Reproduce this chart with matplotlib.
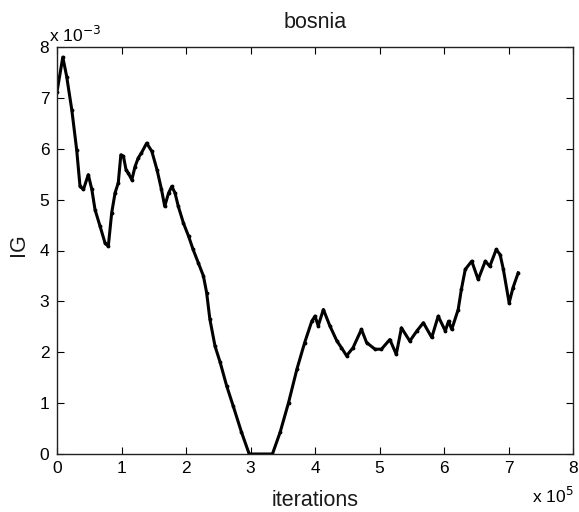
import matplotlib
matplotlib.use("Agg")
import matplotlib.pyplot as plt
from matplotlib.ticker import FuncFormatter, MultipleLocator

plt.rcParams['font.family'] = ['Liberation Sans', 'DejaVu Sans']

# iterations (in units of 1e5) and IG (in units of 1e-3)
x_e5 = [0.0, 0.09, 0.15, 0.23, 0.305, 0.357, 0.41, 0.485, 0.54, 0.59, 0.667, 0.744, 0.795,
        0.848, 0.9, 0.95, 0.99, 1.03, 1.07, 1.105, 1.16, 1.21, 1.26, 1.31, 1.39, 1.47, 1.55,
        1.62, 1.67, 1.73, 1.78, 1.83, 1.88, 1.96, 2.04, 2.11, 2.19, 2.27, 2.32, 2.37, 2.45,
        2.53, 2.63, 2.73, 2.86, 2.98, 3.34, 3.46, 3.59, 3.72, 3.84, 3.95, 4.0, 4.05, 4.13,
        4.23, 4.34, 4.41, 4.49, 4.59, 4.72, 4.80, 4.93, 5.03, 5.16, 5.26, 5.34, 5.47, 5.58,
        5.68, 5.81, 5.91, 6.02, 6.07, 6.12, 6.22, 6.27, 6.33, 6.43, 6.53, 6.64, 6.71, 6.81,
        6.87, 6.92, 7.01, 7.07, 7.15]
ig_e3 = [7.12, 7.80, 7.42, 6.76, 5.98, 5.26, 5.20, 5.49, 5.20, 4.80, 4.48, 4.15, 4.08,
         4.74, 5.13, 5.33, 5.88, 5.85, 5.59, 5.52, 5.39, 5.65, 5.82, 5.92, 6.11, 5.95, 5.59,
         5.20, 4.87, 5.13, 5.26, 5.13, 4.87, 4.54, 4.28, 4.02, 3.76, 3.50, 3.17, 2.65, 2.12,
         1.80, 1.34, 0.95, 0.43, 0.0, 0.0, 0.43, 1.01, 1.67, 2.19, 2.61, 2.71, 2.52, 2.84,
         2.52, 2.22, 2.09, 1.93, 2.09, 2.45, 2.19, 2.06, 2.06, 2.25, 1.96, 2.48, 2.22, 2.42,
         2.58, 2.29, 2.71, 2.42, 2.61, 2.45, 2.84, 3.24, 3.63, 3.79, 3.43, 3.79, 3.69, 4.02,
         3.92, 3.63, 2.97, 3.27, 3.56]

iterations = [v * 1e5 for v in x_e5]
ig = [v * 1e-3 for v in ig_e3]

W, H = 579, 512
fig = plt.figure(figsize=(W / 100, H / 100), dpi=100)
ax = fig.add_axes([57 / W, 1 - 454 / H, 516 / W, 407 / H])
ax.plot(iterations, ig, color='black', lw=2.2, marker='.', ms=3.5)

ax.set_xlim(0, 8e5)
ax.set_ylim(0, 8e-3)
ax.xaxis.set_major_locator(MultipleLocator(1e5))
ax.yaxis.set_major_locator(MultipleLocator(1e-3))
ax.xaxis.set_major_formatter(FuncFormatter(lambda v, p: f"{v/1e5:.0f}"))
ax.yaxis.set_major_formatter(FuncFormatter(lambda v, p: f"{v/1e-3:.0f}"))
ax.tick_params(direction='in', top=True, right=True, length=5, labelsize=12.5, width=0.8)
ax.tick_params(axis='x', pad=5)
ax.tick_params(axis='y', pad=5.5)
for s in ax.spines.values():
    s.set_linewidth(1.0)
    s.set_color('#222222')

ax.set_title('bosnia', fontsize=15.5, pad=14, color='#1a1a1a')
fig.text(315 / W, 1 - 506 / H, 'iterations', fontsize=15.5, ha='center', va='baseline',
         color='#1a1a1a')
fig.text(18 / W, 1 - 245 / H, 'IG', fontsize=15.5, ha='center', va='center', rotation=90,
         color='#1a1a1a')

fig.text(49 / W, 1 - 42 / H, r'x 10$^{-3}$', fontsize=12.5, ha='left', va='baseline')
fig.text(532 / W, 1 - 503 / H, r'x 10$^{5}$', fontsize=12.5, ha='left', va='baseline')

fig.savefig('out.png', dpi=100)
